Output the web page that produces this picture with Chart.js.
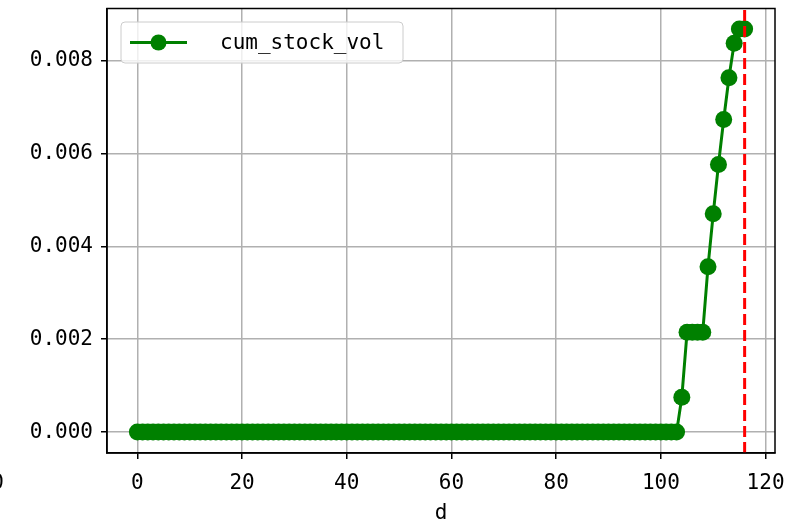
<!DOCTYPE html>
<html><head><meta charset="utf-8">
<script src="https://cdn.jsdelivr.net/npm/chart.js@4/dist/chart.umd.min.js"></script>
<style>html,body{margin:0;padding:0;background:#fff}#wrap{width:800px;height:526px}</style>
</head><body><div id="wrap"><canvas id="c" width="800" height="526"></canvas></div>
<script>
const seriesLabel = "cum_stock_vol";
const days = [0,1,2,3,4,5,6,7,8,9,10,11,12,13,14,15,16,17,18,19,20,21,22,23,24,25,26,27,28,29,30,31,32,33,34,35,36,37,38,39,40,41,42,43,44,45,46,47,48,49,50,51,52,53,54,55,56,57,58,59,60,61,62,63,64,65,66,67,68,69,70,71,72,73,74,75,76,77,78,79,80,81,82,83,84,85,86,87,88,89,90,91,92,93,94,95,96,97,98,99,100,101,102,103,104,105,106,107,108,109,110,111,112,113,114,115,116];
const cumStockVol = [0,0,0,0,0,0,0,0,0,0,0,0,0,0,0,0,0,0,0,0,0,0,0,0,0,0,0,0,0,0,0,0,0,0,0,0,0,0,0,0,0,0,0,0,0,0,0,0,0,0,0,0,0,0,0,0,0,0,0,0,0,0,0,0,0,0,0,0,0,0,0,0,0,0,0,0,0,0,0,0,0,0,0,0,0,0,0,0,0,0,0,0,0,0,0,0,0,0,0,0,0,0,0,0,
0.00075,0.00215,0.00215,0.00215,0.00215,0.00356,0.00470,0.00576,0.00673,0.00763,0.00837,0.00868,0.00868];
const markerDay = 116;
const xTicks = [0,20,40,60,80,100,120];
const yTicks = [0.000,0.002,0.004,0.006,0.008];

const FONT = "'DejaVu Sans Mono', monospace";
const pts = days.map((d,i)=>({x:d,y:cumStockVol[i]}));

const decor = {
  id:'decor',
  afterDatasetsDraw(chart){
    const {ctx, chartArea:a, scales:{x,y}} = chart;
    ctx.save();
    ctx.beginPath(); ctx.rect(a.left,a.top,a.right-a.left,a.bottom-a.top); ctx.clip();
    const px = x.getPixelForValue(markerDay);
    ctx.strokeStyle = '#ff0000'; ctx.lineWidth = 3; ctx.setLineDash([11,5]);
    ctx.beginPath(); ctx.moveTo(px,a.bottom); ctx.lineTo(px,a.top); ctx.stroke();
    ctx.restore();
    ctx.save();
    ctx.strokeStyle='#000'; ctx.lineWidth=1.5;
    ctx.strokeRect(a.left,a.top,a.right-a.left,a.bottom-a.top);
    // legend
    const lx=121, ly=22, lw=282, lh=41;
    ctx.fillStyle='rgba(255,255,255,0.8)'; ctx.strokeStyle='#cccccc'; ctx.lineWidth=1;
    ctx.beginPath(); ctx.roundRect(lx,ly,lw,lh,4); ctx.fill(); ctx.stroke();
    const cy = ly+lh/2;
    ctx.strokeStyle='#008000'; ctx.lineWidth=3;
    ctx.beginPath(); ctx.moveTo(130,cy); ctx.lineTo(187,cy); ctx.stroke();
    ctx.fillStyle='#008000'; ctx.beginPath(); ctx.arc(158.5,cy,8,0,Math.PI*2); ctx.fill();
    ctx.fillStyle='#000'; ctx.font = "21px "+FONT; ctx.textBaseline='middle'; ctx.textAlign='left';
    ctx.fillText(seriesLabel, 220, cy+1);
    // clipped stray label at far left
    ctx.textAlign='right'; ctx.textBaseline='middle';
    ctx.fillText('0', 4, 484);
    ctx.restore();
  }
};

new Chart(document.getElementById('c'), {
  type:'line',
  data:{datasets:[{label:seriesLabel, data:pts, borderColor:'#008000', backgroundColor:'#008000',
    borderWidth:3, pointRadius:8.5, pointHoverRadius:8.5, pointBorderWidth:0, tension:0}]},
  options:{
    responsive:false, animation:false, devicePixelRatio:1,
    layout:{padding:{left:0,right:25,top:8,bottom:0}},
    plugins:{legend:{display:false}, tooltip:{enabled:false}},
    scales:{
      x:{type:'linear', min:-5.8, max:121.8,
        afterBuildTicks(s){ s.ticks = xTicks.map(v=>({value:v})); },
        afterFit(s){ s.height = 73; s.paddingLeft = 0; s.paddingRight = 0; },
        ticks:{font:{family:FONT,size:21}, color:'#000', padding:12, maxRotation:0,
          callback:(v)=>String(v)},
        grid:{color:'#b0b0b0', lineWidth:1.5, tickColor:'#000', tickLength:6, tickWidth:1.5},
        border:{display:true,color:'#000',width:1.5},
        title:{display:true,text:'d',font:{family:FONT,size:21},color:'#000',padding:{top:3,bottom:0}}
      },
      y:{type:'linear', min:-0.00045, max:0.00912,
        afterBuildTicks(s){ s.ticks = yTicks.map(v=>({value:v})); },
        afterFit(s){ s.width = 107; s.paddingTop = 0; s.paddingBottom = 0; },
        ticks:{font:{family:FONT,size:21}, color:'#000', padding:8, callback:(v)=>v.toFixed(3)},
        grid:{color:'#b0b0b0', lineWidth:1.5, tickColor:'#000', tickLength:6, tickWidth:1.5},
        border:{display:true,color:'#000',width:1.5}
      }
    }
  },
  plugins:[decor]
});
</script></body></html>
